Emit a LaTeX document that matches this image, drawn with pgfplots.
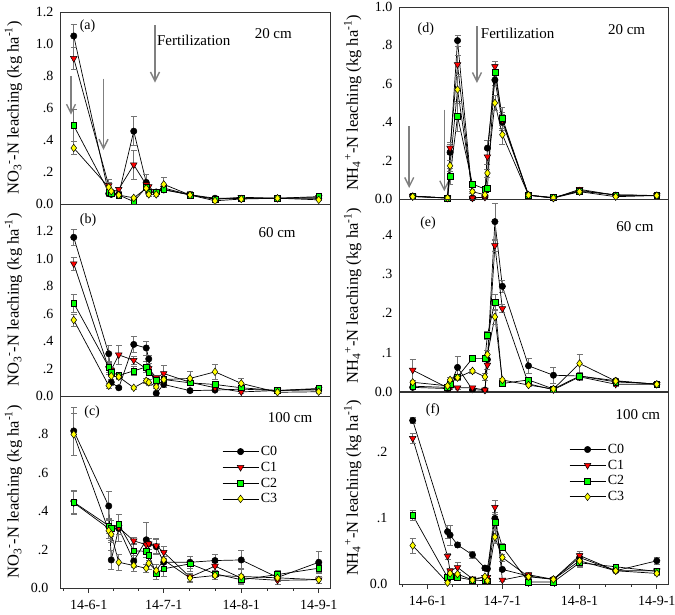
\documentclass[border=0pt]{standalone}
\usepackage{fontspec}
\setmainfont{Liberation Serif}
\usepackage{pgfplots}
\pgfplotsset{compat=1.18}
\usetikzlibrary{arrows.meta}
\definecolor{cgreen}{RGB}{0,255,0}
\definecolor{cyellow}{RGB}{255,255,0}
\definecolor{cred}{RGB}{255,0,0}
\definecolor{agray}{RGB}{128,128,128}
\tikzset{
  lbl/.style={font=\fontsize{14}{16}\selectfont},
  big/.style={font=\fontsize{15}{17}\selectfont},
  farrow/.style={agray, line width=1.6pt, -{Straight Barb[length=9pt,width=9pt,line width=1.4pt]}},
}
\pgfplotsset{
  panel/.style={
    scale only axis, height=192pt,
    xmin=-11.5, xmax=96.5, ymin=0,
    clip=false,
    axis line style={black!80, line width=0.8pt},
    xtick=\empty,
    ytick style={draw=none},
    yticklabel style={font=\fontsize{14}{16}\selectfont, xshift=-3pt},
    xticklabel style={font=\fontsize{14}{16}\selectfont, yshift=-4pt},
    ylabel style={font=\fontsize{16.5}{18}\selectfont, at={(axis description cs:-0.172,0.5)}, anchor=center},
  },
  datex/.style={
    xtick={0,30,61,92},
    xticklabels={14-6-1,14-7-1,14-8-1,14-9-1},
    minor xtick={-10,10,20,40.3,50.7,71.3,81.7},
    tick align=outside, xtick pos=lower,
    major tick length=5pt, minor tick length=3pt,
    xtick style={black!80, line width=0.7pt},
  },
  eb/.style={
    error bars/y dir=both, error bars/y explicit,
    error bars/error bar style={black!55, line width=0.6pt},
    error bars/error mark options={rotate=90, mark size=3pt, black!55, line width=0.6pt},
  },
  c0/.style={black, line width=0.7pt, mark=*, mark size=3.2pt, mark options={solid, fill=black, draw=black, line width=0.5pt}, eb},
  c1/.style={black, line width=0.7pt, mark=triangle*, mark size=3.8pt, mark options={solid, rotate=180, fill=cred, draw=black, line width=0.5pt}, eb},
  c2/.style={black, line width=0.7pt, mark=square*, mark size=2.9pt, mark options={solid, fill=cgreen, draw=black, line width=0.5pt}, eb},
  c3/.style={black, line width=0.7pt, mark=diamond*, mark size=3.8pt, mark options={solid, fill=cyellow, draw=black, line width=0.5pt}, eb},
}
\begin{document}
\begin{tikzpicture}
\path[use as bounding box] (0,0) rectangle (675pt,615pt);
% ---------------- (a)
\begin{axis}[panel, width=270pt, at={(60pt,411pt)}, anchor=south west,
  ymax=1.2, ytick={0,0.2,0.4,0.6,0.8,1.0,1.2},
  yticklabels={0.0,.2,.4,.6,.8,1.0,1.2},
  ylabel={NO\textsubscript{3}\textsuperscript{-}-N leaching (kg ha\textsuperscript{-1})}]
\draw[farrow] (axis cs:-7.1,0.797) -- (axis cs:-7.1,0.558);
\draw[farrow] (axis cs:5.9,0.784) -- (axis cs:5.9,0.339);
\draw[farrow] (axis cs:26.5,1.117) -- (axis cs:26.5,0.759);
\addplot[c0] table[y error index=2] {
-6 1.05 0.07
8 0.065 0.02
9 0.06 0.01
12 0.06 0.01
18 0.455 0.09
23 0.135 0.05
24 0.07 0.01
27 0.075 0.01
30 0.088 0.01
40.5 0.058 0.02
50.5 0.036 0.005
61 0.035 0.005
75.5 0.036 0.005
92 0.035 0.01
};
\addplot[c1] table[y error index=2] {
-6 0.91 0.07
8 0.115 0.04
9 0.07 0.01
12 0.092 0.01
18 0.245 0.09
23 0.12 0.03
24 0.109 0.01
27 0.07 0.01
30 0.1 0.02
40.5 0.057 0.01
50.5 0.03 0.005
61 0.042 0.005
75.5 0.036 0.005
92 0.04 0.01
};
\addplot[c2] table[y error index=2] {
-6 0.49 0.1
8 0.075 0.01
9 0.065 0.01
12 0.056 0.01
18 0.015 0.005
23 0.105 0.02
24 0.077 0.01
27 0.077 0.01
30 0.092 0.02
40.5 0.056 0.01
50.5 0.031 0.005
61 0.035 0.005
75.5 0.036 0.005
92 0.046 0.01
};
\addplot[c3] table[y error index=2] {
-6 0.35 0.04
8 0.105 0.03
9 0.08 0.01
12 0.056 0.01
18 0.038 0.01
23 0.098 0.01
24 0.06 0.01
27 0.06 0.01
30 0.123 0.045
40.5 0.056 0.01
50.5 0.02 0.005
61 0.031 0.005
75.5 0.036 0.005
92 0.026 0.005
};
\node[lbl] at (rel axis cs:0.102,0.927) {(a)};
\node[big] at (rel axis cs:0.79,0.89) {20 cm};
\node[big, anchor=west, inner sep=0pt] at (rel axis cs:0.359,0.854) {Fertilization};
\end{axis}
% ---------------- (b)
\begin{axis}[panel, width=270pt, at={(60pt,219pt)}, anchor=south west,
  ymax=1.4, ytick={0,0.2,0.4,0.6,0.8,1.0,1.2},
  yticklabels={0.0,.2,.4,.6,.8,1.0,1.2},
  ylabel={NO\textsubscript{3}\textsuperscript{-}-N leaching (kg ha\textsuperscript{-1})}]
\addplot[c0] table[y error index=2] {
-6 1.157 0.06
8 0.308 0.06
9 0.1 0.02
12 0.06 0.01
18 0.376 0.06
23 0.35 0.05
24 0.27 0.03
27 0.02 0.01
30 0.084 0.02
40.5 0.039 0.01
50.5 0.043 0.01
61 0.05 0.01
75.5 0.04 0.01
92 0.045 0.01
};
\addplot[c1] table[y error index=2] {
-6 0.964 0.045
8 0.2 0.04
9 0.19 0.02
12 0.30 0.07
18 0.26 0.03
23 0.2 0.03
24 0.2 0.02
27 0.133 0.02
30 0.164 0.06
40.5 0.1 0.02
50.5 0.06 0.02
61 0.03 0.01
75.5 0.04 0.01
92 0.05 0.01
};
\addplot[c2] table[y error index=2] {
-6 0.677 0.065
8 0.212 0.04
9 0.176 0.02
12 0.15 0.02
18 0.183 0.03
23 0.212 0.04
24 0.176 0.02
27 0.116 0.02
30 0.12 0.02
40.5 0.096 0.02
50.5 0.084 0.02
61 0.06 0.01
75.5 0.04 0.01
92 0.055 0.01
};
\addplot[c3] table[y error index=2] {
-6 0.554 0.045
8 0.075 0.02
9 0.145 0.02
12 0.14 0.02
18 0.06 0.01
23 0.111 0.02
24 0.099 0.02
27 0.067 0.01
30 0.12 0.02
40.5 0.128 0.05
50.5 0.176 0.055
61 0.092 0.04
75.5 0.027 0.01
92 0.031 0.01
};
\node[lbl] at (rel axis cs:0.104,0.917) {(b)};
\node[big] at (rel axis cs:0.804,0.849) {60 cm};
\end{axis}
% ---------------- (c)
\begin{axis}[panel, datex, width=270pt, at={(60pt,27pt)}, anchor=south west,
  ymax=1.0, ytick={0,0.2,0.4,0.6,0.8},
  yticklabels={0.0,.2,.4,.6,.8},
  ylabel={NO\textsubscript{3}\textsuperscript{-}-N leaching (kg ha\textsuperscript{-1})},
  legend image code/.code={\draw[mark repeat=2,mark phase=2,#1] plot coordinates {(0pt,0pt) (18pt,0pt) (36pt,0pt)};},
  legend cell align=left,
  legend style={draw=none, fill=none, at={(axis description cs:0.6,0.75)}, anchor=north west,
    font=\fontsize{14}{16}\selectfont, row sep=1pt, inner sep=0pt}]
\addplot[c0] table[y error index=2] {
-6 0.818 0.125
8 0.427 0.077
9 0.146 0.05
12 0.31 0.03
18 0.14 0.03
23 0.251 0.09
24 0.23 0.03
27 0.215 0.04
30 0.134 0.03
40.5 0.134 0.03
50.5 0.143 0.03
61 0.146 0.05
75.5 0.055 0.02
92 0.134 0.055
};
\addlegendentry{C0}
\addplot[c1] table[y error index=2] {
-6 0.444 0.06
8 0.31 0.05
9 0.30 0.05
12 0.315 0.07
18 0.246 0.02
23 0.225 0.03
24 0.23 0.03
27 0.22 0.04
30 0.186 0.03
40.5 0.057 0.02
50.5 0.114 0.02
61 0.052 0.02
75.5 0.04 0.02
92 0.043 0.02
};
\addlegendentry{C1}
\addplot[c2] table[y error index=2] {
-6 0.447 0.06
8 0.324 0.04
9 0.31 0.04
12 0.332 0.05
18 0.194 0.04
23 0.191 0.03
24 0.172 0.03
27 0.074 0.03
30 0.1 0.04
40.5 0.126 0.04
50.5 0.074 0.02
61 0.043 0.02
75.5 0.07 0.02
92 0.103 0.02
};
\addlegendentry{C2}
\addplot[c3] table[y error index=2] {
-6 0.80 0.11
8 0.298 0.04
9 0.28 0.04
12 0.134 0.04
18 0.117 0.03
23 0.103 0.02
24 0.129 0.03
27 0.091 0.03
30 0.146 0.04
40.5 0.052 0.02
50.5 0.065 0.02
61 0.06 0.04
75.5 0.053 0.02
92 0.043 0.02
};
\addlegendentry{C3}
\node[lbl] at (rel axis cs:0.119,0.917) {(c)};
\node[big] at (rel axis cs:0.852,0.885) {100 cm};
\end{axis}
% ---------------- (d)
\begin{axis}[panel, width=269pt, at={(399pt,416pt)}, anchor=south west,
  ymax=1.0, ytick={0,0.2,0.4,0.6,0.8,1.0},
  yticklabels={0.0,.2,.4,.6,.8,1.0},
  ylabel={NH\textsubscript{4}\textsuperscript{+}-N leaching (kg ha\textsuperscript{-1})}]
\draw[farrow] (axis cs:-7.4,0.378) -- (axis cs:-7.4,0.057);
\draw[farrow] (axis cs:6.7,0.465) -- (axis cs:6.7,0.04);
\draw[farrow] (axis cs:19.8,0.90) -- (axis cs:19.8,0.604);
\addplot[c0] table[y error index=2] {
-6 0.015 0.005
8 0.005 0.003
9 0.243 0.04
12 0.825 0.03
18 0.005 0.003
23 0.01 0.005
24 0.265 0.04
27 0.62 0.03
30 0.40 0.04
40.5 0.02 0.005
50.5 0.005 0.003
61 0.045 0.01
75.5 0.02 0.005
92 0.018 0.005
};
\addplot[c1] table[y error index=2] {
-6 0.015 0.005
8 0.005 0.003
9 0.265 0.03
12 0.70 0.05
18 0.005 0.003
23 0.01 0.005
24 0.22 0.04
27 0.69 0.025
30 0.41 0.04
40.5 0.02 0.005
50.5 0.005 0.003
61 0.05 0.01
75.5 0.02 0.005
92 0.018 0.005
};
\addplot[c2] table[y error index=2] {
-6 0.015 0.005
8 0.005 0.003
9 0.118 0.04
12 0.43 0.08
18 0.078 0.01
23 0.052 0.01
24 0.057 0.01
27 0.66 0.04
30 0.42 0.06
40.5 0.02 0.005
50.5 0.008 0.003
61 0.04 0.01
75.5 0.022 0.005
92 0.018 0.005
};
\addplot[c3] table[y error index=2] {
-6 0.012 0.005
8 0.005 0.003
9 0.173 0.03
12 0.57 0.07
18 0.038 0.01
23 0.022 0.005
24 0.135 0.02
27 0.50 0.04
30 0.335 0.05
40.5 0.02 0.005
50.5 0.005 0.003
61 0.038 0.01
75.5 0.012 0.005
92 0.018 0.005
};
\node[lbl] at (rel axis cs:0.1,0.885) {(d)};
\node[big] at (rel axis cs:0.846,0.88) {20 cm};
\node[big, anchor=west, inner sep=0pt] at (rel axis cs:0.304,0.865) {Fertilization};
\end{axis}
% ---------------- (e)
\begin{axis}[panel, width=269pt, at={(399pt,223.3pt)}, anchor=south west,
  ymax=0.49, ytick={0,0.1,0.2,0.3,0.4},
  yticklabels={0.0,.1,.2,.3,.4},
  ylabel={NH\textsubscript{4}\textsuperscript{+}-N leaching (kg ha\textsuperscript{-1})}]
\addplot[c0] table[y error index=2] {
-6 0.011 0.003
8 0.008 0.003
9 0.015 0.003
12 0.062 0.028
18 0.005 0.002
23 0.004 0.002
24 0.082 0.01
27 0.434 0.048
30 0.269 0.015
40.5 0.066 0.02
50.5 0.042 0.02
61 0.04 0.01
75.5 0.028 0.005
92 0.019 0.004
};
\addplot[c1] table[y error index=2] {
-6 0.055 0.027
8 0.01 0.003
9 0.01 0.003
12 0.01 0.003
18 0.01 0.003
23 0.004 0.002
24 0.068 0.01
27 0.373 0.015
30 0.212 0.01
40.5 0.02 0.005
50.5 0.005 0.003
61 0.038 0.01
75.5 0.019 0.004
92 0.019 0.004
};
\addplot[c2] table[y error index=2] {
-6 0.014 0.003
8 0.011 0.003
9 0.019 0.004
12 0.038 0.005
18 0.085 0.005
23 0.085 0.005
24 0.144 0.01
27 0.229 0.02
30 0.021 0.005
40.5 0.03 0.005
50.5 0.007 0.003
61 0.04 0.01
75.5 0.025 0.005
92 0.02 0.004
};
\addplot[c3] table[y error index=2] {
-6 0.024 0.005
8 0.015 0.003
9 0.03 0.008
12 0.036 0.008
18 0.053 0.005
23 0.038 0.01
24 0.095 0.01
27 0.191 0.02
30 0.03 0.005
40.5 0.017 0.004
50.5 0.007 0.003
61 0.072 0.024
75.5 0.027 0.005
92 0.019 0.004
};
\node[lbl] at (rel axis cs:0.108,0.88) {(e)};
\node[big] at (rel axis cs:0.877,0.86) {60 cm};
\end{axis}
% ---------------- (f)
\begin{axis}[panel, datex, width=269pt, at={(399pt,31pt)}, anchor=south west,
  ymax=0.29, ytick={0,0.1,0.2},
  yticklabels={0.0,.1,.2},
  ylabel={NH\textsubscript{4}\textsuperscript{+}-N leaching (kg ha\textsuperscript{-1})},
  legend image code/.code={\draw[mark repeat=2,mark phase=2,#1] plot coordinates {(0pt,0pt) (18pt,0pt) (36pt,0pt)};},
  legend cell align=left,
  legend style={draw=none, fill=none, at={(axis description cs:0.632,0.74)}, anchor=north west,
    font=\fontsize{14}{16}\selectfont, row sep=1pt, inner sep=0pt}]
\addplot[c0] table[y error index=2] {
-6 0.247 0.005
8 0.079 0.01
9 0.074 0.015
12 0.059 0.004
18 0.044 0.005
23 0.024 0.003
24 0.023 0.003
27 0.099 0.01
30 0.022 0.003
40.5 0.012 0.003
50.5 0.007 0.002
61 0.04 0.006
75.5 0.02 0.003
92 0.035 0.006
};
\addlegendentry{C0}
\addplot[c1] table[y error index=2] {
-6 0.22 0.008
8 0.042 0.005
9 0.02 0.003
12 0.025 0.008
18 0.008 0.002
23 0.01 0.002
24 0.01 0.002
27 0.116 0.01
30 0.006 0.002
40.5 0.014 0.003
50.5 0.007 0.002
61 0.043 0.006
75.5 0.02 0.003
92 0.02 0.003
};
\addlegendentry{C1}
\addplot[c2] table[y error index=2] {
-6 0.104 0.008
8 0.01 0.003
9 0.012 0.003
12 0.01 0.003
18 0.006 0.002
23 0.005 0.002
24 0.005 0.002
27 0.093 0.01
30 0.056 0.005
40.5 0.003 0.002
50.5 0.003 0.002
61 0.032 0.005
75.5 0.026 0.003
92 0.019 0.003
};
\addlegendentry{C2}
\addplot[c3] table[y error index=2] {
-6 0.058 0.011
8 0.002 0.002
9 0.016 0.003
12 0.015 0.003
18 0.006 0.002
23 0.011 0.002
24 0.005 0.002
27 0.071 0.01
30 0.04 0.005
40.5 0.011 0.003
50.5 0.007 0.002
61 0.035 0.01
75.5 0.02 0.003
92 0.016 0.003
};
\addlegendentry{C3}
\node[lbl] at (rel axis cs:0.126,0.906) {(f)};
\node[big] at (rel axis cs:0.888,0.88) {100 cm};
\end{axis}
\end{tikzpicture}
\end{document}
